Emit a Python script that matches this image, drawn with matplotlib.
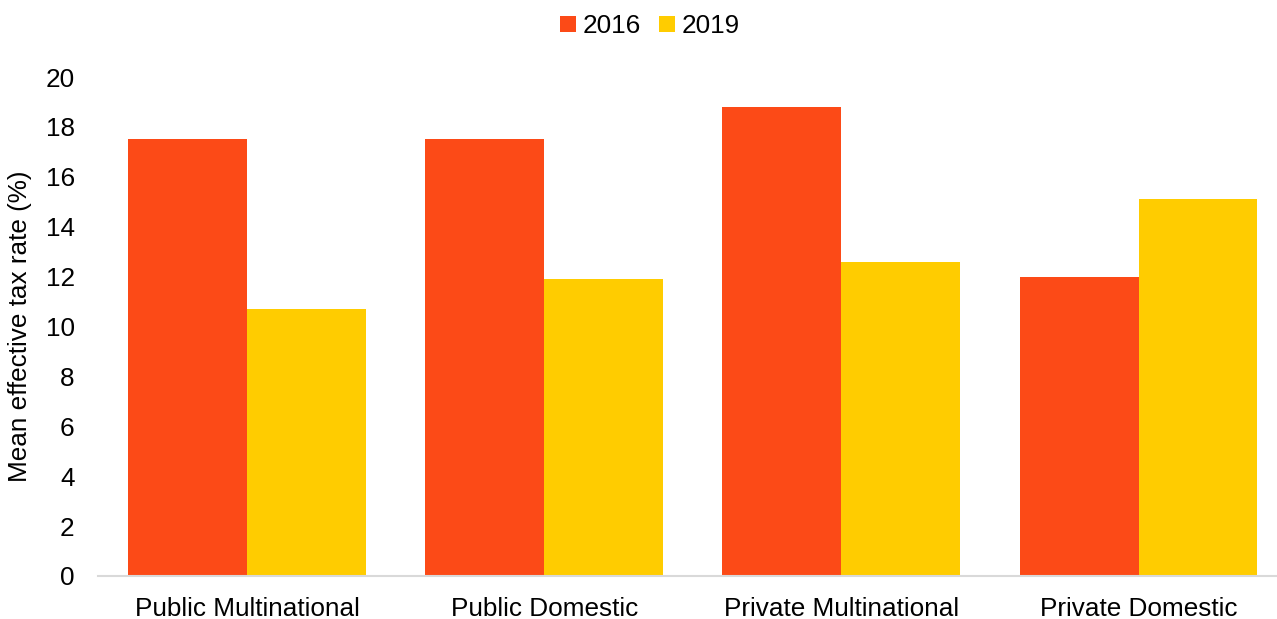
import numpy as np
import matplotlib
matplotlib.use('Agg')
import matplotlib.pyplot as plt

plt.rcParams['font.family'] = ['Liberation Sans', 'DejaVu Sans']

# Mean effective tax rate by firm type
categories = ['Public Multinational', 'Public Domestic', 'Private Multinational', 'Private Domestic']
years = ['2016', '2019']
rate_2016 = [17.5, 17.5, 18.8, 12.0]
rate_2019 = [10.7, 11.9, 12.6, 15.1]

col_2016 = '#FC4A17'
col_2019 = '#FFCC00'
fs = 18.8

fig = plt.figure(figsize=(12.77, 6.19), dpi=100)
# axes runs slightly past the right edge of the canvas
ax = fig.add_axes([0.077, 0.0695, 0.931, 0.8061])

x = np.arange(len(categories))
w = 0.4
ax.bar(x - w / 2, rate_2016, width=w, color=col_2016, label=years[0])
ax.bar(x + w / 2, rate_2019, width=w, color=col_2019, label=years[1])

ax.set_xlim(-0.5, len(categories) - 0.5)
ax.set_ylim(0, 20)
ax.set_yticks(np.arange(0, 21, 2))
ax.set_xticks(x)
ax.set_xticklabels(categories)
ax.tick_params(axis='both', length=0, labelsize=fs, colors='black')
ax.tick_params(axis='x', pad=15)
ax.tick_params(axis='y', pad=17)
ax.set_ylabel('Mean effective tax rate (%)', fontsize=fs, labelpad=10)

for side in ['top', 'right', 'left']:
    ax.spines[side].set_visible(False)
ax.spines['bottom'].set_color('#D9D9D9')
ax.spines['bottom'].set_linewidth(1.5)

fig.legend(loc='upper center', bbox_to_anchor=(0.509, 1.015), ncol=2, frameon=False,
           fontsize=fs, handlelength=0.6, handleheight=0.6, handletextpad=0.25,
           columnspacing=0.7)

fig.savefig('out.png', dpi=100)
